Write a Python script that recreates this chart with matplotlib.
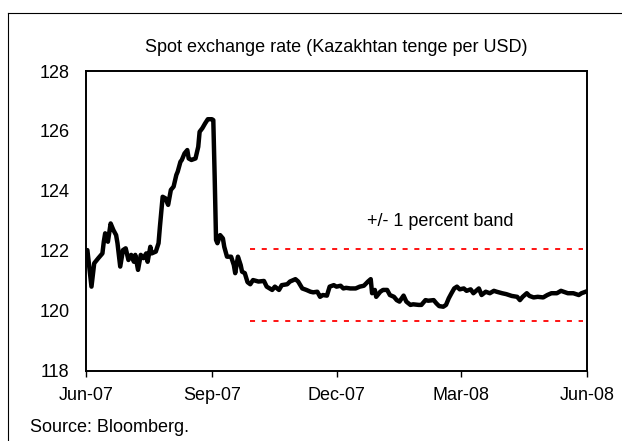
import numpy as np
import pandas as pd
import matplotlib
matplotlib.use("Agg")
import matplotlib.pyplot as plt
import matplotlib.dates as mdates
from matplotlib.lines import Line2D

plt.rcParams['font.family'] = ['Liberation Sans', 'DejaVu Sans']

# days since 1 Jun 2007 and spot rate (tenge per USD)
days = [0, 1, 4, 6, 9, 12, 13, 14, 16, 18, 20, 22, 23, 25, 27, 29, 31, 33, 35, 36,
        38, 40, 42, 44, 45, 47, 48, 51, 53, 54, 56, 58, 60, 62, 64, 66, 67, 69, 70, 72,
        74, 75, 77, 80, 82, 83, 85, 87, 89, 92, 93, 94, 95, 96, 98, 100, 101, 103, 106, 108,
        109, 111, 113, 114, 116, 118, 120, 122, 126, 130, 132, 136, 138, 141, 143, 147, 149, 153, 155, 158,
        161, 164, 166, 169, 171, 173, 176, 178, 181, 183, 186, 188, 190, 193, 197, 200, 203, 206, 208, 209,
        211, 212, 215, 217, 220, 222, 225, 227, 229, 232, 234, 237, 239, 243, 245, 248, 250, 254, 256, 258,
        261, 263, 265, 267, 269, 271, 273, 276, 278, 281, 283, 285, 287, 289, 292, 295, 298, 300, 304, 307,
        311, 315, 317, 319, 322, 324, 327, 330, 334, 337, 340, 344, 347, 350, 352, 356, 360, 362, 365]
rate = [122.0, 122.02, 120.8, 121.58, 121.75, 121.91, 122.3, 122.58, 122.3, 122.91, 122.69, 122.52, 122.25, 121.47, 122.02, 122.08, 121.69, 121.86, 121.63, 121.86,
        121.36, 121.86, 121.75, 121.91, 121.63, 122.13, 121.91, 121.97, 122.25, 122.8, 123.8, 123.75, 123.53, 124.03, 124.14, 124.53, 124.64, 124.97, 125.03, 125.25,
        125.36, 125.08, 125.03, 125.08, 125.47, 125.97, 126.09, 126.25, 126.39, 126.39, 126.36, 124.47, 122.36, 122.25, 122.52, 122.41, 122.13, 121.8, 121.8, 121.52,
        121.25, 121.8, 121.52, 121.3, 121.25, 120.95, 120.88, 121.02, 120.97, 120.99, 120.8, 120.69, 120.8, 120.69, 120.85, 120.88, 120.97, 121.05, 120.97, 120.74,
        120.69, 120.63, 120.61, 120.63, 120.46, 120.52, 120.5, 120.8, 120.85, 120.8, 120.83, 120.74, 120.76, 120.74, 120.74, 120.8, 120.83, 120.97, 121.05, 120.58,
        120.69, 120.46, 120.63, 120.69, 120.69, 120.52, 120.46, 120.35, 120.3, 120.5, 120.3, 120.19, 120.21, 120.19, 120.19, 120.35, 120.33, 120.35, 120.24, 120.15,
        120.13, 120.19, 120.41, 120.58, 120.74, 120.8, 120.71, 120.74, 120.66, 120.71, 120.58, 120.66, 120.74, 120.52, 120.63, 120.58, 120.66, 120.63, 120.58, 120.55,
        120.49, 120.46, 120.35, 120.46, 120.58, 120.49, 120.44, 120.46, 120.44, 120.52, 120.58, 120.58, 120.66, 120.61, 120.58, 120.58, 120.52, 120.58, 120.63]

start = pd.Timestamp("2007-06-01")
dates = start + pd.to_timedelta(days, unit="D")

band_mid = 120.85
band_pct = 0.01
band_start = start + pd.Timedelta(days=120)
band_end = start + pd.Timedelta(days=363)

tick_dates = pd.to_datetime(["2007-06-01", "2007-09-01", "2007-12-01", "2008-03-01", "2008-06-01"])

fs = 13

fig = plt.figure(figsize=(6.22, 4.41), dpi=100)
ax = fig.add_axes([86 / 622, 1 - 370.5 / 441, 501 / 622, 299.5 / 441])

ax.plot(dates, rate, color="black", lw=3.2, solid_joinstyle="round")
for b in (band_mid * (1 + band_pct), band_mid * (1 - band_pct)):
    ax.plot([band_start, band_end], [b, b], color="red", lw=1.3, dashes=(2.8, 3.7))

ax.text(start + pd.Timedelta(days=259), 122.96, "+/- 1 percent band",
        ha="center", va="center", fontsize=fs)

ax.set_ylim(118, 128)
ax.set_yticks(range(118, 129, 2))
ax.set_xlim(tick_dates[0], tick_dates[-1])
ax.set_xticks(tick_dates)
ax.xaxis.set_major_formatter(mdates.DateFormatter("%b-%y"))
ax.tick_params(axis="y", length=0, pad=12, labelsize=fs)
ax.tick_params(axis="x", length=4, width=1, pad=8, labelsize=fs, direction="out")
for s in ax.spines.values():
    s.set_linewidth(1.4)

fig.text(336.5 / 622, 1 - 47 / 441, "Spot exchange rate (Kazakhtan tenge per USD)",
         ha="center", va="center", fontsize=fs)
fig.text(30 / 622, 1 - 427 / 441, "Source: Bloomberg.", ha="left", va="center", fontsize=fs)

# outer frame (open at right and bottom as in the original)
fig.add_artist(Line2D([8 / 622, 8 / 622], [0, 1 - 13 / 441], transform=fig.transFigure, color="black", lw=0.8))
fig.add_artist(Line2D([8 / 622, 1], [1 - 13 / 441, 1 - 13 / 441], transform=fig.transFigure, color="black", lw=0.8))

fig.savefig("out.png", dpi=100)
